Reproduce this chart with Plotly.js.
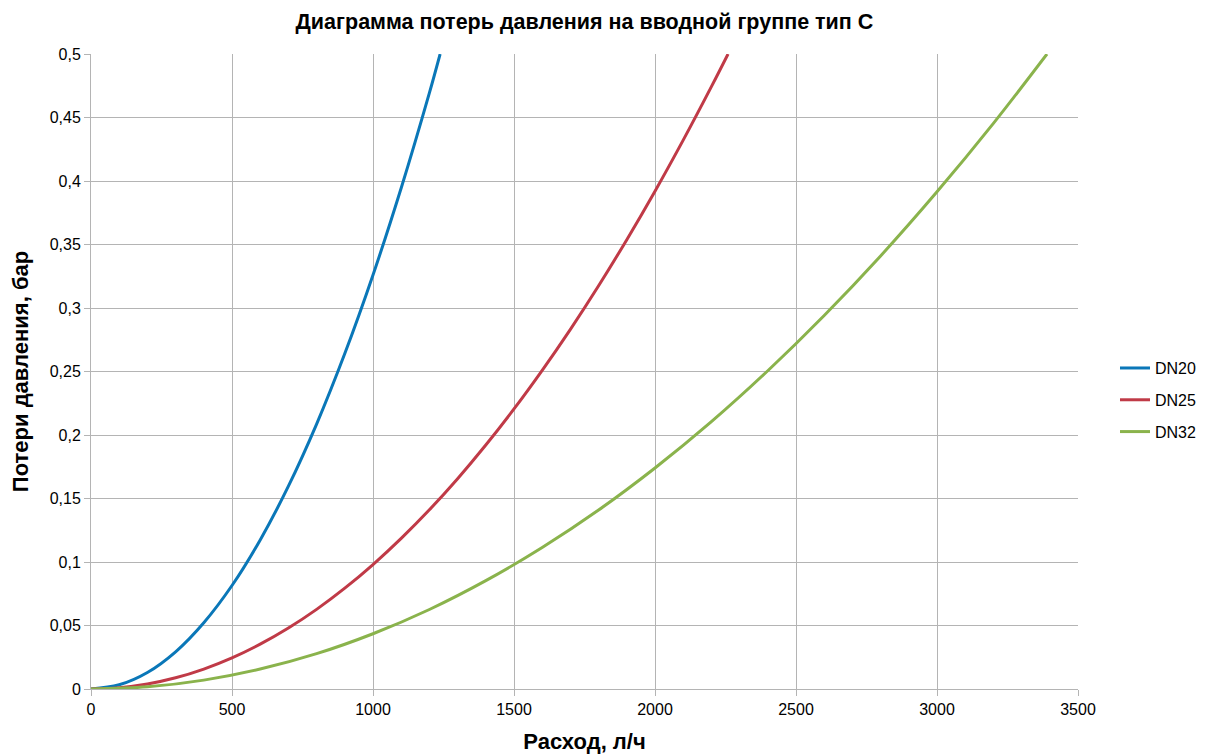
<!DOCTYPE html>
<html>
<head>
<meta charset="utf-8">
<script src="https://cdn.plot.ly/plotly-3.0.1.min.js"></script>
<style>html,body{margin:0;padding:0;background:#fff;}#chart{width:1210px;height:756px;}</style>
</head>
<body>
<div id="chart"></div>
<script>
// Flow, l/h, and pressure loss, bar
const dn20Flow = [0, 100, 200, 300, 400, 500, 600, 700, 800, 900, 1000, 1100, 1200, 1238];
const dn20Loss = [0, 0.0033, 0.013, 0.0293, 0.0522, 0.0815, 0.1174, 0.1597, 0.2086, 0.2641, 0.326, 0.3945, 0.4694, 0.5];

const dn25Flow = [0, 100, 200, 300, 400, 500, 600, 700, 800, 900, 1000, 1100, 1200, 1300, 1400, 1500, 1600, 1700, 1800, 1900, 2000, 2100, 2200, 2259];
const dn25Loss = [0, 0.001, 0.0039, 0.0088, 0.0157, 0.0245, 0.0353, 0.048, 0.0627, 0.0794, 0.098, 0.1186, 0.1411, 0.1656, 0.1921, 0.2205, 0.2509, 0.2832, 0.3175, 0.3538, 0.392, 0.4322, 0.4743, 0.5];

const dn32Flow = [0, 200, 400, 600, 800, 1000, 1200, 1400, 1600, 1800, 2000, 2200, 2400, 2600, 2800, 3000, 3200, 3390];
const dn32Loss = [0, 0.0017, 0.007, 0.0157, 0.0278, 0.0435, 0.0626, 0.0853, 0.1114, 0.1409, 0.174, 0.2105, 0.2506, 0.2941, 0.341, 0.3915, 0.4454, 0.5];

const seriesNames = ['DN20', 'DN25', 'DN32'];
const seriesColors = ['#0a77b8', '#c03a47', '#8ab34c'];

const chartTitle = 'Диаграмма потерь давления на вводной группе тип С';
const xTitle = 'Расход, л/ч';
const yTitle = 'Потери давления, бар';

const flows = [dn20Flow, dn25Flow, dn32Flow];
const losses = [dn20Loss, dn25Loss, dn32Loss];

const traces = seriesNames.map((n, i) => ({
  type: 'scatter', mode: 'lines', name: n, legendgroup: n,
  x: flows[i], y: losses[i],
  line: {color: seriesColors[i], width: 3, shape: 'spline', smoothing: 1}
}));

const font = 'Liberation Sans, Arial, sans-serif';
const grid = '#b4b4b4';

const layout = {
  width: 1210, height: 756,
  margin: {l: 91, r: 132, t: 54, b: 67, autoexpand: false},
  paper_bgcolor: '#fff', plot_bgcolor: '#fff',
  separators: ', ',
  font: {family: font, color: '#000', size: 16},
  title: {text: '<b>' + chartTitle + '</b>', x: 0.483, xanchor: 'center', y: 0.971, yanchor: 'middle', font: {family: font, size: 21.5, color: '#000'}},
  xaxis: {
    range: [0, 3500], dtick: 500, tick0: 0,
    showgrid: true, gridcolor: grid, gridwidth: 1,
    showline: true, linecolor: grid, linewidth: 1,
    ticks: 'outside', ticklen: 6, tickcolor: grid,
    zeroline: false, tickfont: {size: 16, color: '#000'},
    title: {text: '<b>' + xTitle + '</b>', font: {size: 22, color: '#000'}, standoff: 16}
  },
  yaxis: {
    range: [0, 0.5], dtick: 0.05, tick0: 0,
    showgrid: true, gridcolor: grid, gridwidth: 1,
    showline: true, linecolor: grid, linewidth: 1,
    ticks: 'outside', ticklen: 6, tickcolor: grid,
    zeroline: false, tickfont: {size: 16, color: '#000'},
    title: {text: '<b>' + yTitle + '</b>', font: {size: 22, color: '#000'}, standoff: 14}
  },
  showlegend: true,
  legend: {x: 1.0375, y: 0.455, xanchor: 'left', yanchor: 'middle', font: {size: 16, color: '#000'}, bgcolor: 'rgba(0,0,0,0)', traceorder: 'grouped', tracegroupgap: 8}
};

Plotly.newPlot('chart', traces, layout, {displayModeBar: false, staticPlot: true});
</script>
</body>
</html>
